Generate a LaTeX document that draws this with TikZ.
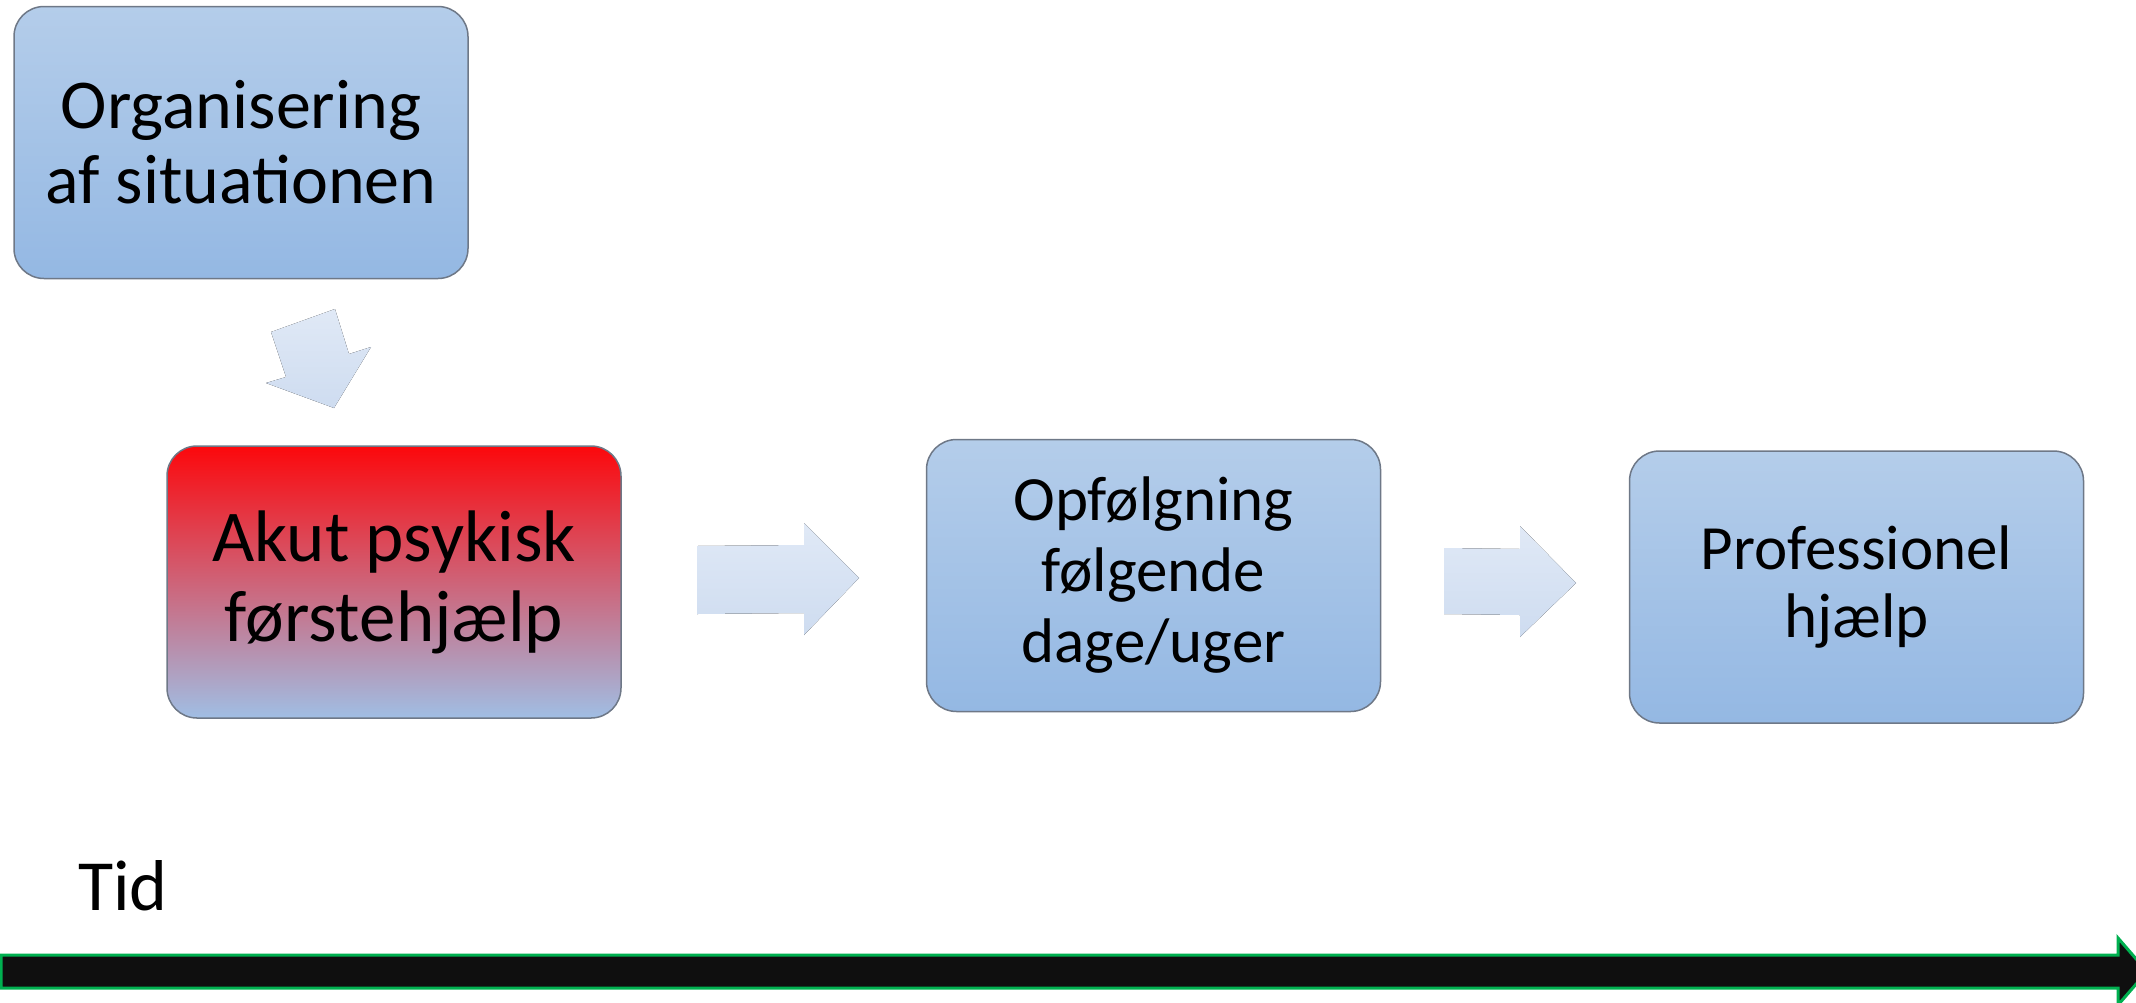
\documentclass[tikz,border=0pt]{standalone}
\usepackage{fontspec}
\setmainfont{Carlito}
\begin{document}
\begin{tikzpicture}[x=1pt,y=-1pt,
  box/.style={draw={rgb,255:red,110;green,120;blue,135},line width=1.5pt,rounded corners=30pt,
    minimum width=454pt,minimum height=272pt,inner sep=0pt,outer sep=0pt,align=center,
    top color={rgb,255:red,180;green,205;blue,234},bottom color={rgb,255:red,148;green,184;blue,227}},
  redbox/.style={box,top color={rgb,255:red,252;green,8;blue,12},bottom color={rgb,255:red,160;green,190;blue,228}},
  blockarrow/.style={top color={rgb,255:red,224;green,233;blue,246},bottom color={rgb,255:red,206;green,220;blue,240},draw=none},
  timearrow/.style={fill={rgb,255:red,15;green,15;blue,15},draw={rgb,255:red,0;green,176;blue,80},line width=3pt,line join=miter}
]
\useasboundingbox (0,0) rectangle (2136,1002);

\node[box,font=\fontsize{70pt}{75pt}\selectfont] (org) at (241,142.5) {Organisering\\af situationen};
\node[redbox,font=\fontsize{73pt}{80pt}\selectfont] (akut) at (394,582) {Akut psykisk\\førstehjælp};
\node[box,font=\fontsize{63pt}{71pt}\selectfont] (opf) at (1153.5,575.5) {Opfølgning\\følgende\\dage/uger};
\node[box,font=\fontsize{63pt}{68pt}\selectfont] (prof) at (1856.5,587) {Professionel\\hjælp};

% block arrows
\fill[blockarrow] (271,332) -- (335,309) -- (349,354) -- (371,347) -- (334,408) -- (266,383) -- (286,377) -- cycle;
\fill[blockarrow] (697,546) -- (804,545) -- (804,523) -- (859,578) -- (804,635) -- (804,613) -- (697,614) -- cycle;
\fill[blockarrow] (1444,548) -- (1520,549) -- (1520,526) -- (1576,583) -- (1520,637) -- (1520,615) -- (1444,614) -- cycle;

% time axis
\node[anchor=base west,inner sep=0pt,font=\fontsize{72pt}{80pt}\selectfont] (tid) at (78,910) {Tid};
\draw[timearrow] (1,955) -- (2118,955) -- (2118,938) -- (2147,971.5) -- (2118,1005) -- (2118,988) -- (1,988) -- cycle;
\end{tikzpicture}
\end{document}
